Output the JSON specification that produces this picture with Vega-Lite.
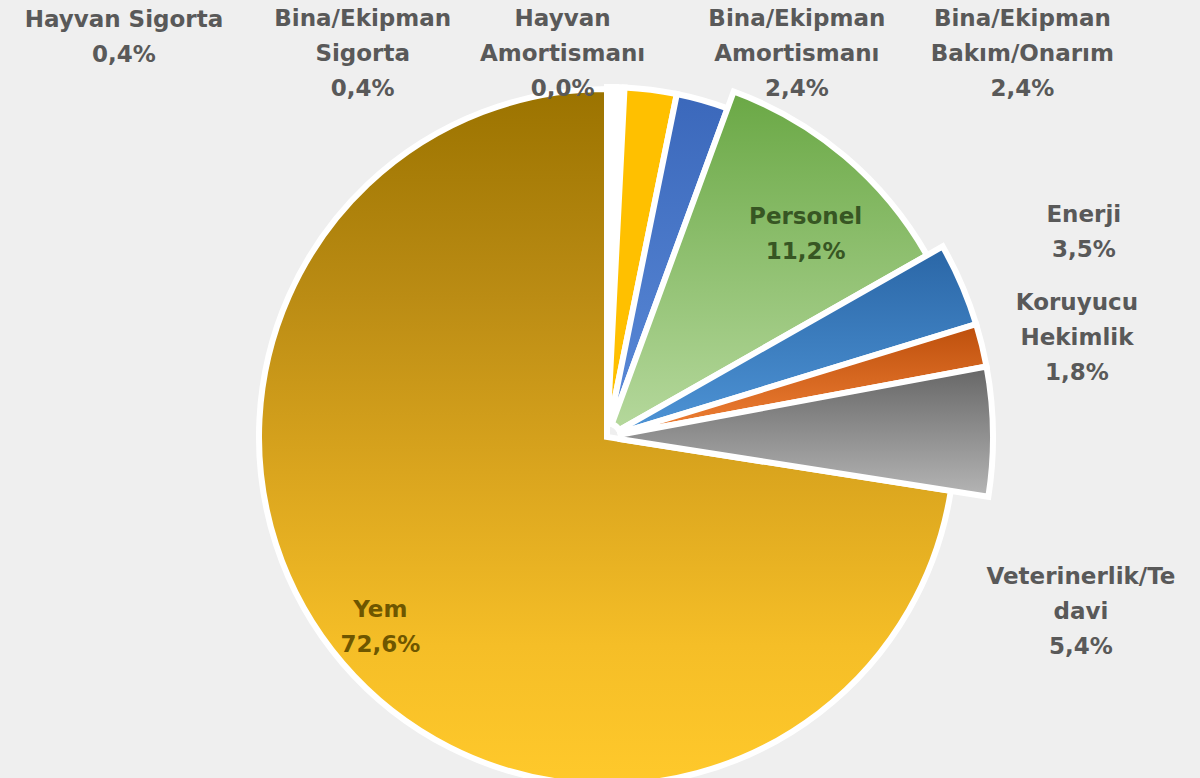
{
  "$schema": "https://vega.github.io/schema/vega-lite/v6.json",
  "width": 1186,
  "height": 682,
  "autosize": {"type": "none"},
  "padding": {"left": 14, "top": 96, "right": 0, "bottom": 0},
  "background": "#efefef",
  "config": {"view": {"stroke": null}},
  "data": {"values": [
    {"cat": "Hayvan Sigorta", "label": "Hayvan Sigorta", "v": 0.4},
    {"cat": "Bina/Ekipman Sigorta", "label": "Bina/Ekipman\nSigorta", "v": 0.4},
    {"cat": "Hayvan Amortismanı", "label": "Hayvan\nAmortismanı", "v": 0.0},
    {"cat": "Bina/Ekipman Amortismanı", "label": "Bina/Ekipman\nAmortismanı", "v": 2.4},
    {"cat": "Bina/Ekipman Bakım/Onarım", "label": "Bina/Ekipman\nBakım/Onarım", "v": 2.4},
    {"cat": "Personel", "label": "Personel", "v": 11.2},
    {"cat": "Enerji", "label": "Enerji", "v": 3.5},
    {"cat": "Koruyucu Hekimlik", "label": "Koruyucu\nHekimlik", "v": 1.8},
    {"cat": "Veterinerlik/Tedavi", "label": "Veterinerlik/Te\ndavi", "v": 5.4},
    {"cat": "Yem", "label": "Yem", "v": 72.6}
  ]},
  "transform": [
    {"window": [{"op": "row_number", "as": "i"}]},
    {"calculate": "datum.label + '\\n' + replace(format(datum.v, '.1f'), '.', ',') + '%'", "as": "txt"}
  ],
  "layer": [
    {
      "mark": {"type": "arc", "outerRadius": 348, "stroke": "#ffffff", "strokeWidth": 6},
      "encoding": {
        "theta": {"field": "v", "type": "quantitative", "stack": true},
        "order": {"field": "i", "type": "quantitative"},
        "opacity": {"condition": {"test": "datum.cat === 'Yem'", "value": 1}, "value": 0},
        "fill": {"value": {"gradient": "linear", "x1": 0, "y1": 0, "x2": 0, "y2": 1, "stops": [{"offset": 0, "color": "#9b7300"}, {"offset": 0.3, "color": "#bb8c14"}, {"offset": 0.55, "color": "#daa51e"}, {"offset": 0.8, "color": "#f5be27"}, {"offset": 1, "color": "#ffc92b"}]}}
      }
    },
    {
      "mark": {"type": "arc", "outerRadius": 350, "innerRadius": 14, "stroke": "#ffffff", "strokeWidth": 6},
      "encoding": {
        "theta": {"field": "v", "type": "quantitative", "stack": true},
        "order": {"field": "i", "type": "quantitative"},
        "opacity": {"condition": {"test": "datum.i <= 5", "value": 1}, "value": 0},
        "fill": {
          "condition": [
            {"test": "datum.cat === 'Bina/Ekipman Bakım/Onarım'", "value": {"gradient": "linear", "x1": 0, "y1": 0, "x2": 0, "y2": 1, "stops": [{"offset": 0, "color": "#3b68bb"}, {"offset": 1, "color": "#5a8ad8"}]}},
            {"test": "datum.cat === 'Bina/Ekipman Amortismanı'", "value": "#ffc000"}
          ],
          "value": "#ffffff"
        }
      }
    },
    {
      "mark": {"type": "arc", "outerRadius": 368, "innerRadius": 14, "stroke": "#ffffff", "strokeWidth": 6},
      "encoding": {
        "theta": {"field": "v", "type": "quantitative", "stack": true},
        "order": {"field": "i", "type": "quantitative"},
        "opacity": {"condition": {"test": "datum.cat === 'Personel'", "value": 1}, "value": 0},
        "fill": {"value": {"gradient": "linear", "x1": 0, "y1": 0, "x2": 0, "y2": 1, "stops": [{"offset": 0, "color": "#6aa845"}, {"offset": 1, "color": "#b5d89c"}]}}
      }
    },
    {
      "mark": {"type": "arc", "outerRadius": 386, "innerRadius": 14, "stroke": "#ffffff", "strokeWidth": 6},
      "encoding": {
        "theta": {"field": "v", "type": "quantitative", "stack": true},
        "order": {"field": "i", "type": "quantitative"},
        "opacity": {"condition": {"test": "datum.cat === 'Enerji' || datum.cat === 'Koruyucu Hekimlik' || datum.cat === 'Veterinerlik/Tedavi'", "value": 1}, "value": 0},
        "fill": {
          "condition": [
            {"test": "datum.cat === 'Enerji'", "value": {"gradient": "linear", "x1": 0, "y1": 0, "x2": 0, "y2": 1, "stops": [{"offset": 0, "color": "#2a66a6"}, {"offset": 1, "color": "#4e94d6"}]}},
            {"test": "datum.cat === 'Koruyucu Hekimlik'", "value": {"gradient": "linear", "x1": 0, "y1": 0, "x2": 0, "y2": 1, "stops": [{"offset": 0, "color": "#bd4f0c"}, {"offset": 1, "color": "#f08035"}]}},
            {"test": "datum.cat === 'Veterinerlik/Tedavi'", "value": {"gradient": "linear", "x1": 0, "y1": 0, "x2": 0, "y2": 1, "stops": [{"offset": 0, "color": "#666666"}, {"offset": 1, "color": "#b5b5b5"}]}}
          ],
          "value": "#ffffff"
        }
      }
    },
    {
      "mark": {"type": "text", "radius": 390, "dx": -488, "dy": -27, "font": "DejaVu Sans", "fontWeight": "bold", "fontSize": 23, "lineHeight": 35, "lineBreak": "\n", "align": "center", "baseline": "middle", "fill": "#595959"},
      "encoding": {
        "theta": {"field": "v", "type": "quantitative", "stack": true},
        "order": {"field": "i", "type": "quantitative"},
        "text": {"condition": {"test": "datum.cat === 'Hayvan Sigorta'", "field": "txt"}, "value": ""}
      }
    },
    {
      "mark": {"type": "text", "radius": 390, "dx": -259, "dy": -28, "font": "DejaVu Sans", "fontWeight": "bold", "fontSize": 23, "lineHeight": 35, "lineBreak": "\n", "align": "center", "baseline": "middle", "fill": "#595959"},
      "encoding": {
        "theta": {"field": "v", "type": "quantitative", "stack": true},
        "order": {"field": "i", "type": "quantitative"},
        "text": {"condition": {"test": "datum.cat === 'Bina/Ekipman Sigorta'", "field": "txt"}, "value": ""}
      }
    },
    {
      "mark": {"type": "text", "radius": 390, "dx": -64, "dy": -28, "font": "DejaVu Sans", "fontWeight": "bold", "fontSize": 23, "lineHeight": 35, "lineBreak": "\n", "align": "center", "baseline": "middle", "fill": "#595959"},
      "encoding": {
        "theta": {"field": "v", "type": "quantitative", "stack": true},
        "order": {"field": "i", "type": "quantitative"},
        "text": {"condition": {"test": "datum.cat === 'Hayvan Amortismanı'", "field": "txt"}, "value": ""}
      }
    },
    {
      "mark": {"type": "text", "radius": 390, "dx": 141, "dy": -31, "font": "DejaVu Sans", "fontWeight": "bold", "fontSize": 23, "lineHeight": 35, "lineBreak": "\n", "align": "center", "baseline": "middle", "fill": "#595959"},
      "encoding": {
        "theta": {"field": "v", "type": "quantitative", "stack": true},
        "order": {"field": "i", "type": "quantitative"},
        "text": {"condition": {"test": "datum.cat === 'Bina/Ekipman Amortismanı'", "field": "txt"}, "value": ""}
      }
    },
    {
      "mark": {"type": "text", "radius": 390, "dx": 309, "dy": -43, "font": "DejaVu Sans", "fontWeight": "bold", "fontSize": 23, "lineHeight": 35, "lineBreak": "\n", "align": "center", "baseline": "middle", "fill": "#595959"},
      "encoding": {
        "theta": {"field": "v", "type": "quantitative", "stack": true},
        "order": {"field": "i", "type": "quantitative"},
        "text": {"condition": {"test": "datum.cat === 'Bina/Ekipman Bakım/Onarım'", "field": "txt"}, "value": ""}
      }
    },
    {
      "mark": {"type": "text", "radius": 284, "dx": 15, "dy": -3, "font": "DejaVu Sans", "fontWeight": "bold", "fontSize": 23, "lineHeight": 35, "lineBreak": "\n", "align": "center", "baseline": "middle", "fill": "#375623"},
      "encoding": {
        "theta": {"field": "v", "type": "quantitative", "stack": true},
        "order": {"field": "i", "type": "quantitative"},
        "text": {"condition": {"test": "datum.cat === 'Personel'", "field": "txt"}, "value": ""}
      }
    },
    {
      "mark": {"type": "text", "radius": 420, "dx": 91, "dy": -56, "font": "DejaVu Sans", "fontWeight": "bold", "fontSize": 23, "lineHeight": 35, "lineBreak": "\n", "align": "center", "baseline": "middle", "fill": "#595959"},
      "encoding": {
        "theta": {"field": "v", "type": "quantitative", "stack": true},
        "order": {"field": "i", "type": "quantitative"},
        "text": {"condition": {"test": "datum.cat === 'Enerji'", "field": "txt"}, "value": ""}
      }
    },
    {
      "mark": {"type": "text", "radius": 420, "dx": 62, "dy": -34, "font": "DejaVu Sans", "fontWeight": "bold", "fontSize": 23, "lineHeight": 35, "lineBreak": "\n", "align": "center", "baseline": "middle", "fill": "#595959"},
      "encoding": {
        "theta": {"field": "v", "type": "quantitative", "stack": true},
        "order": {"field": "i", "type": "quantitative"},
        "text": {"condition": {"test": "datum.cat === 'Koruyucu Hekimlik'", "field": "txt"}, "value": ""}
      }
    },
    {
      "mark": {"type": "text", "radius": 420, "dx": 54, "dy": 146, "font": "DejaVu Sans", "fontWeight": "bold", "fontSize": 23, "lineHeight": 35, "lineBreak": "\n", "align": "center", "baseline": "middle", "fill": "#595959"},
      "encoding": {
        "theta": {"field": "v", "type": "quantitative", "stack": true},
        "order": {"field": "i", "type": "quantitative"},
        "text": {"condition": {"test": "datum.cat === 'Veterinerlik/Tedavi'", "field": "txt"}, "value": ""}
      }
    },
    {
      "mark": {"type": "text", "radius": 297, "dx": -1, "dy": -20, "font": "DejaVu Sans", "fontWeight": "bold", "fontSize": 23, "lineHeight": 35, "lineBreak": "\n", "align": "center", "baseline": "middle", "fill": "#6e5600"},
      "encoding": {
        "theta": {"field": "v", "type": "quantitative", "stack": true},
        "order": {"field": "i", "type": "quantitative"},
        "text": {"condition": {"test": "datum.cat === 'Yem'", "field": "txt"}, "value": ""}
      }
    }
  ]
}
